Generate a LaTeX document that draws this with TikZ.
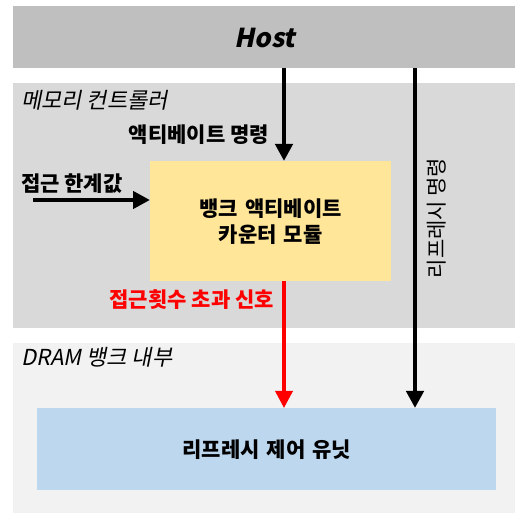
\documentclass[tikz,border=0pt]{standalone}
\usepackage{fontspec}
\setmainfont{Noto Sans CJK KR}
\newfontfamily\krit{Noto Sans CJK KR}[FakeSlant=0.2,BoldFeatures={FakeSlant=0.2}]
\usetikzlibrary{arrows.meta}
\definecolor{hostgray}{HTML}{BFBFBF}
\definecolor{mcgray}{HTML}{D9D9D9}
\definecolor{dramgray}{HTML}{F2F2F2}
\definecolor{modyellow}{HTML}{FFE699}
\definecolor{unitblue}{HTML}{BDD7EE}
\definecolor{sigred}{HTML}{FF0000}
\begin{document}
\begin{tikzpicture}[x=1pt,y=-1pt,
  region/.style={draw=none,inner sep=0pt,anchor=north west},
  box/.style={draw=none,inner sep=0pt,anchor=north west,align=center,font=\fontsize{21}{26}\selectfont\bfseries},
  lbl/.style={inner sep=0pt,font=\fontsize{21}{25}\selectfont\bfseries},
  rlbl/.style={inner sep=0pt,font=\fontsize{22}{25}\selectfont\krit},
  blk/.style={line width=4.5pt,-{Triangle[width=17pt,length=17pt]}},
  redarr/.style={draw=sigred,line width=3.5pt,-{Triangle[width=17pt,length=17pt]}}]
\useasboundingbox (0,0) rectangle (515,513);
\node[region,fill=hostgray,minimum width=502pt,minimum height=62pt] (host) at (13,6) {};
\node[font=\fontsize{26}{30}\selectfont\krit\bfseries] (hosttxt) at (265,38) {Host};
\node[region,fill=mcgray,minimum width=502pt,minimum height=245pt] (mc) at (13,83) {};
\node[region,fill=dramgray,minimum width=502pt,minimum height=170pt] (dram) at (13,343) {};
\node[box,fill=modyellow,minimum width=241pt,minimum height=120pt,text width=241pt] (mod) at (150,161) {뱅크 액티베이트\\카운터 모듈};
\node[box,fill=unitblue,minimum width=459pt,minimum height=82pt,text width=459pt] (unit) at (37,408) {리프레시 제어 유닛};
\node[rlbl,anchor=west] (mcl) at (21,100) {메모리 컨트롤러};
\node[rlbl,anchor=west] (draml) at (21,357) {DRAM 뱅크 내부};
\node[lbl,anchor=east] (actl) at (269,135) {액티베이트 명령};
\node[lbl,anchor=west] (thl) at (21,184) {접근 한계값};
\node[lbl,anchor=east,text=sigred] (exl) at (274,300) {접근횟수 초과 신호};
\node[inner sep=0pt,font=\fontsize{21}{25}\selectfont,rotate=90] (refl) at (437,218) {리프레시 명령};
\coordinate (xa) at (284,0);
\coordinate (xb) at (415,0);
\coordinate (src) at (33,200);
\draw[blk] (host.south -| xa) -- (mod.north -| xa);
\draw[blk] (host.south -| xb) -- (unit.north -| xb);
\draw[blk] (src) -- (mod.west |- src);
\draw[redarr] (mod.south -| xa) -- (unit.north -| xa);
\end{tikzpicture}
\end{document}
